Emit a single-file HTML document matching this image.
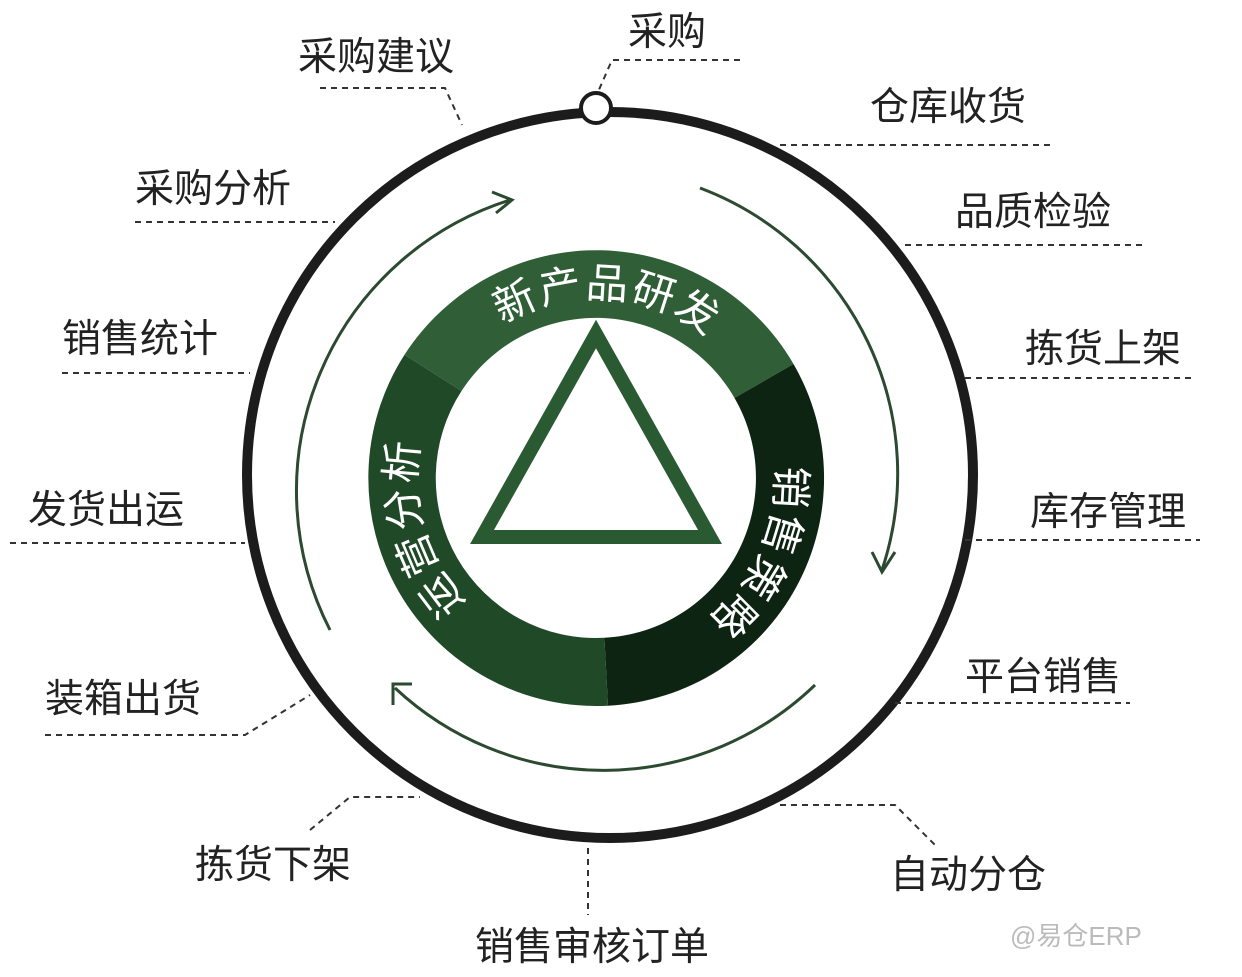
<!DOCTYPE html>
<html><head><meta charset="utf-8"><style>
body{margin:0;background:#fff;}
svg{display:block;font-family:"Liberation Sans","Noto Sans CJK SC",sans-serif;}
.l{font-size:39px;fill:#222;}
.d{stroke:#333;stroke-width:2;stroke-dasharray:6 5;fill:none;}
.r{font-size:42px;fill:#fff;}
.a{stroke:#2b4a30;stroke-width:3;fill:none;}
</style></head><body>
<svg width="1242" height="977" viewBox="0 0 1242 977">
<defs>
<path id="p1" d="M 440.1 388 A 180 180 0 0 1 751.9 388"/>
<path id="p2" d="M 760.4 404.8 A 180 180 0 0 1 639.5 652.7"/>
<path id="p3" d="M 522.8 642.4 A 180 180 0 0 1 446.8 377.4"/>
</defs>
<circle cx="610" cy="475" r="363" fill="none" stroke="#1c1c1c" stroke-width="10"/>
<circle cx="596" cy="108" r="15" fill="#fff" stroke="#1c1c1c" stroke-width="4"/>
<path d="M 404.5 354.8 A 228 228 0 0 1 793.5 364.0 L 734.5 398.0 A 160 160 0 0 0 461.5 391.0 Z" fill="#2f5e37"/>
<path d="M 793.5 364.0 A 228 228 0 0 1 608 705.7 L 604.4 637.8 A 160 160 0 0 0 734.5 398.0 Z" fill="#0d2412"/>
<path d="M 608 705.7 A 228 228 0 0 1 404.5 354.8 L 461.5 391.0 A 160 160 0 0 0 604.4 637.8 Z" fill="#1f4927"/>
<polygon points="596,334 482,537 710,537" fill="none" stroke="#2a5a32" stroke-width="14" stroke-linejoin="miter"/>
<text class="r" letter-spacing="2"><textPath href="#p1" startOffset="53%" text-anchor="middle">新产品研发</textPath></text>
<text class="r" letter-spacing="2"><textPath href="#p2" startOffset="48%" text-anchor="middle">销售策略</textPath></text>
<text class="r" letter-spacing="2"><textPath href="#p3" startOffset="50%" text-anchor="middle">运营分析</textPath></text>
<path class="a" d="M 330 630 A 305 305 0 0 1 510 200"/>
<path class="a" d="M 492 192 L 512 200 L 496 213"/>
<path class="a" d="M 700 188 A 305 305 0 0 1 882 570"/>
<path class="a" d="M 872 552 L 882 572 L 895 552"/>
<path class="a" d="M 815 685 A 305 305 0 0 1 395 688"/>
<path class="a" d="M 393 705 L 393 684 L 412 684"/>
<text class="l" x="298" y="70">采购建议</text>
<path class="d" d="M320 88 H445 L462 125"/>
<text class="l" x="628" y="45">采购</text>
<path class="d" d="M740 60 H612 L598 92"/>
<text class="l" x="870" y="120">仓库收货</text>
<path class="d" d="M780 145 H1050"/>
<text class="l" x="955" y="225">品质检验</text>
<path class="d" d="M905 245 H1145"/>
<text class="l" x="1025" y="362">拣货上架</text>
<path class="d" d="M965 378 H1195"/>
<text class="l" x="1030" y="525">库存管理</text>
<path class="d" d="M965 540 H1200"/>
<text class="l" x="965" y="690">平台销售</text>
<path class="d" d="M895 703 H1130"/>
<text class="l" x="890" y="888">自动分仓</text>
<path class="d" d="M780 805 H895 L935 845"/>
<text class="l" x="475" y="960">销售审核订单</text>
<path class="d" d="M588 848 V915"/>
<text class="l" x="195" y="878">拣货下架</text>
<path class="d" d="M310 830 L350 797 H420"/>
<text class="l" x="45" y="712">装箱出货</text>
<path class="d" d="M45 735 H245 L310 695"/>
<text class="l" x="28" y="523">发货出运</text>
<path class="d" d="M10 543 H245"/>
<text class="l" x="62" y="352">销售统计</text>
<path class="d" d="M62 373 H250"/>
<text class="l" x="135" y="202">采购分析</text>
<path class="d" d="M135 222 H335"/>
<text x="1010" y="945" style="font-size:26px;fill:#bbb">@易仓ERP</text>
</svg>
</body></html>
